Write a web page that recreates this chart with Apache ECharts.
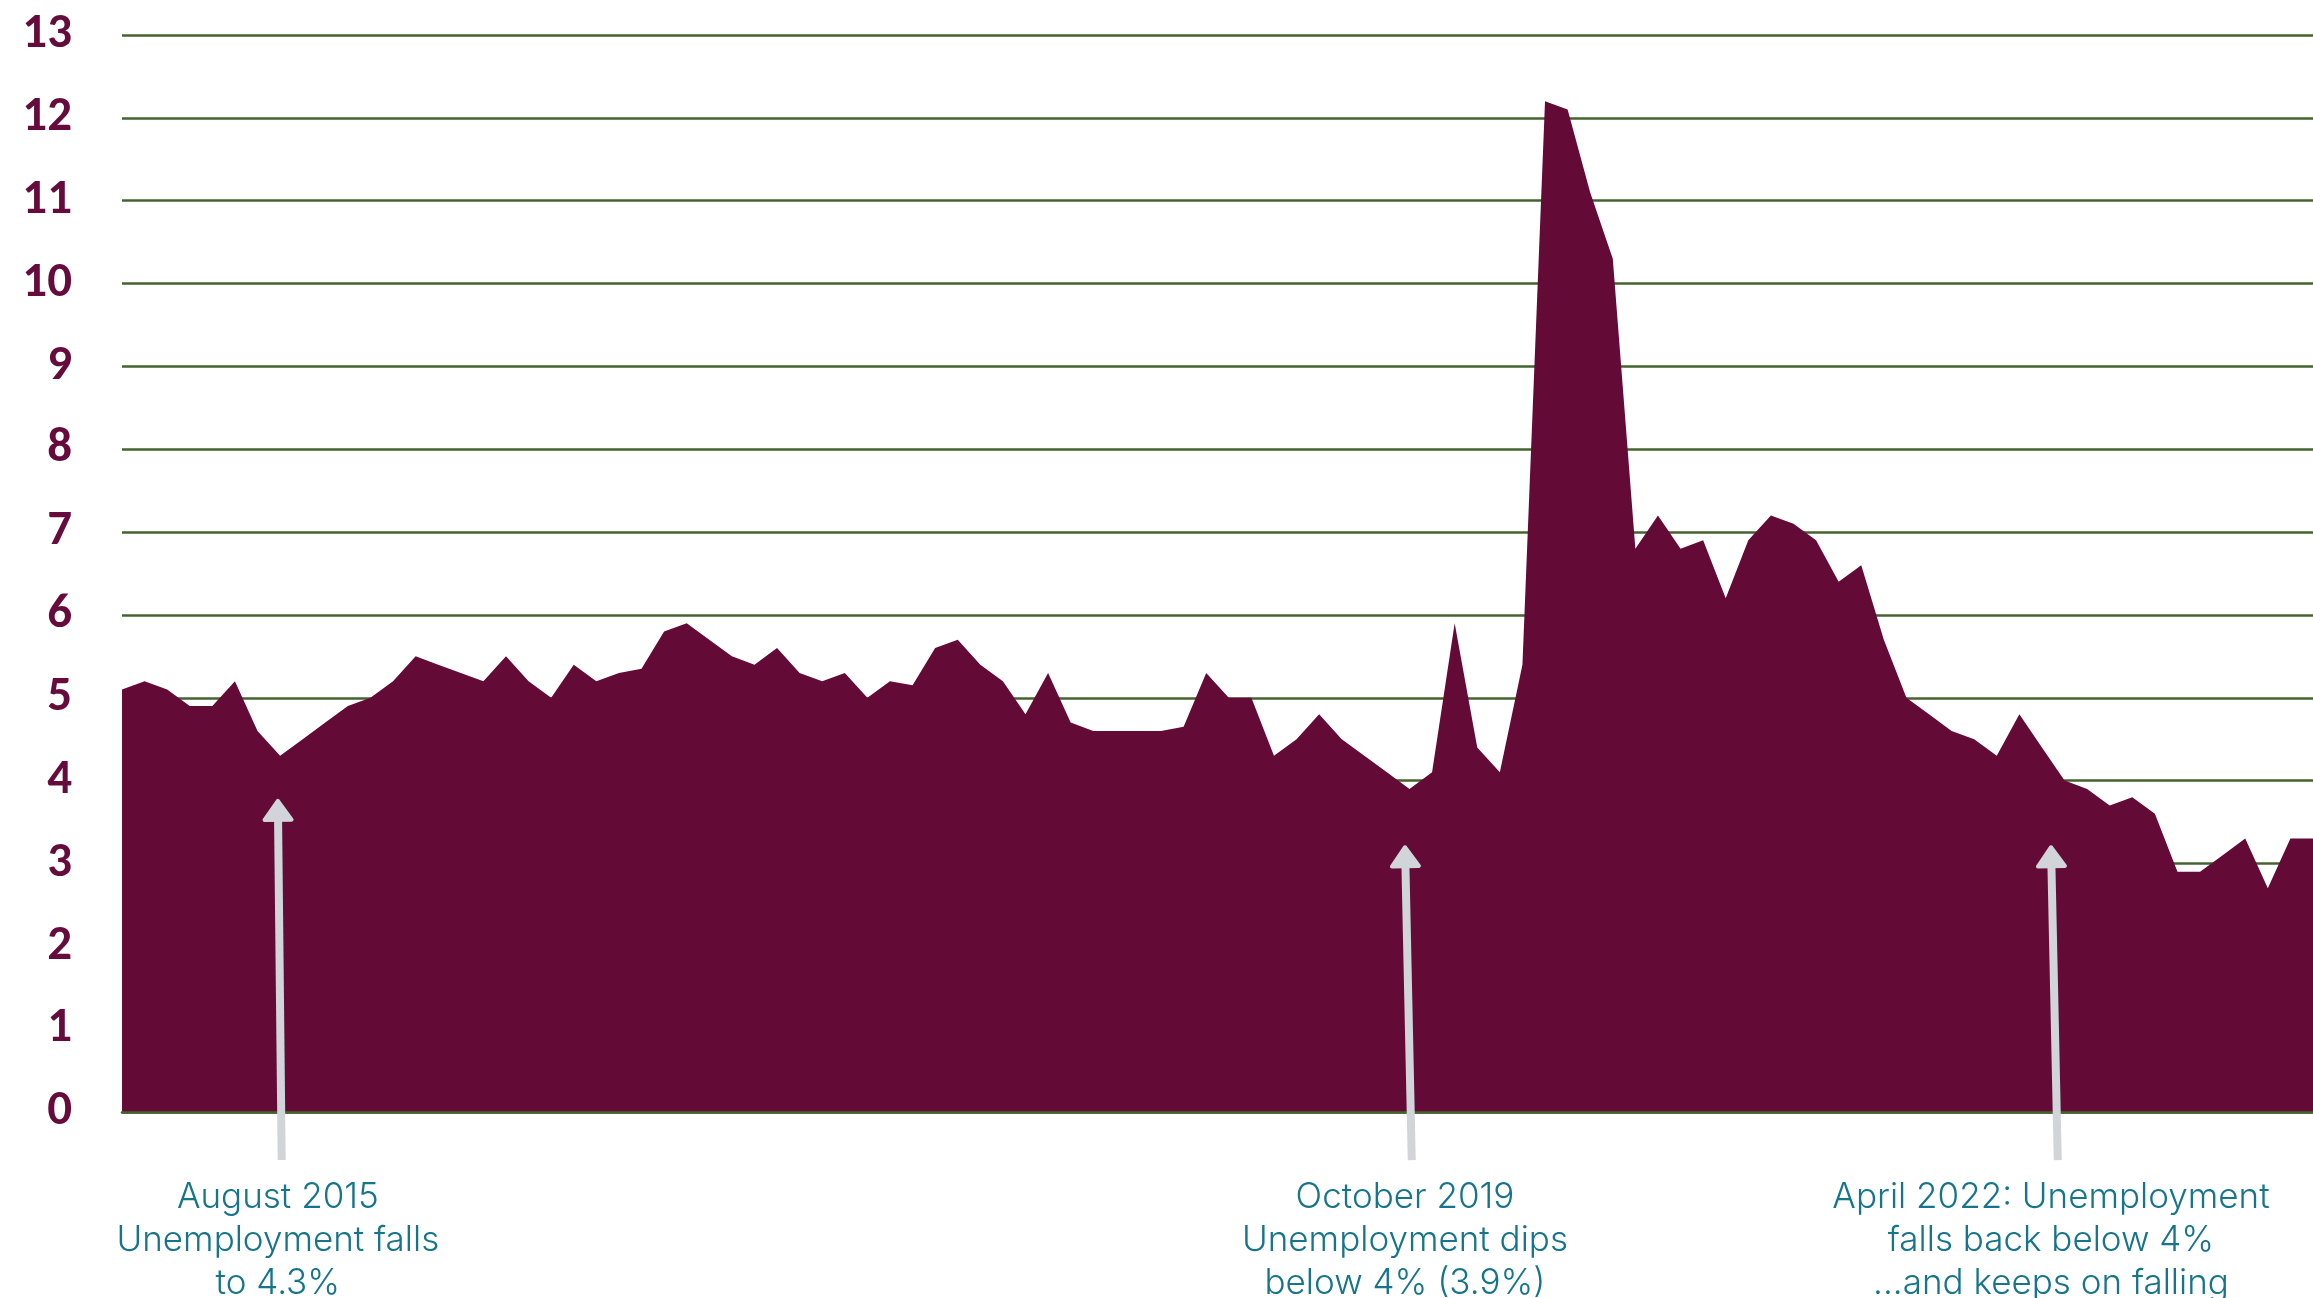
<!DOCTYPE html>
<html>
<head>
<meta charset="utf-8">
<script src="https://cdn.jsdelivr.net/npm/echarts@6/dist/echarts.min.js"></script>
<style>
html,body{margin:0;padding:0;background:#ffffff;}
#chart{width:2313px;height:1298px;}
</style>
</head>
<body>
<div id="chart"></div>
<script>
// ---- data ----
const categories = [
 "2015-01","2015-02","2015-03","2015-04","2015-05","2015-06","2015-07","2015-08","2015-09","2015-10","2015-11","2015-12",
 "2016-01","2016-02","2016-03","2016-04","2016-05","2016-06","2016-07","2016-08","2016-09","2016-10","2016-11","2016-12",
 "2017-01","2017-02","2017-03","2017-04","2017-05","2017-06","2017-07","2017-08","2017-09","2017-10","2017-11","2017-12",
 "2018-01","2018-02","2018-03","2018-04","2018-05","2018-06","2018-07","2018-08","2018-09","2018-10","2018-11","2018-12",
 "2019-01","2019-02","2019-03","2019-04","2019-05","2019-06","2019-07","2019-08","2019-09","2019-10","2019-11","2019-12",
 "2020-01","2020-02","2020-03","2020-04","2020-05","2020-06","2020-07","2020-08","2020-09","2020-10","2020-11","2020-12",
 "2021-01","2021-02","2021-03","2021-04","2021-05","2021-06","2021-07","2021-08","2021-09","2021-10","2021-11","2021-12",
 "2022-01","2022-02","2022-03","2022-04","2022-05","2022-06","2022-07","2022-08","2022-09","2022-10","2022-11","2022-12",
 "2023-01","2023-02"
];
const unemployment = [
 5.1,5.2,5.1,4.9,4.9,5.2,4.6,4.3,4.5,4.7,4.9,5.0,
 5.2,5.5,5.4,5.3,5.2,5.5,5.2,5.0,5.4,5.2,5.3,5.35,
 5.8,5.9,5.7,5.5,5.4,5.6,5.3,5.2,5.3,5.0,5.2,5.15,
 5.6,5.7,5.4,5.2,4.8,5.3,4.7,4.6,4.6,4.6,4.6,4.65,
 5.3,5.0,5.0,4.3,4.5,4.8,4.5,4.3,4.1,3.9,4.1,5.9,
 4.4,4.1,5.4,12.2,12.1,11.1,10.3,6.8,7.2,6.8,6.9,6.2,
 6.9,7.2,7.1,6.9,6.4,6.6,5.7,5.0,4.8,4.6,4.5,4.3,
 4.8,4.4,4.0,3.9,3.7,3.8,3.6,2.9,2.9,3.1,3.3,2.7,
 3.3,3.3
];
const yMin = 0, yMax = 13, yInterval = 1;

// annotation anchors in data coordinates [category index, value]
const annotationTips    = [[6.9, 3.78], [56.8, 3.22], [85.4, 3.22]];
const annotationBottoms = [[7.07, -0.58], [57.1, -0.58], [85.7, -0.58]];
const annotationTexts = [
 ["August 2015", "Unemployment falls", "to 4.3%"],
 ["October 2019", "Unemployment dips", "below 4% (3.9%)"],
 ["April 2022: Unemployment", "falls back below 4%", "...and keeps on falling"]
];

// ---- chart ----
const MAROON = '#630a37';
const GREEN = '#44632f';
const TEAL = '#17758b';
const ARROW = '#d1d5d9';

const chart = echarts.init(document.getElementById('chart'), null, {renderer: 'canvas'});
chart.setOption({
  animation: false,
  backgroundColor: '#ffffff',
  grid: {left: 122, right: 0, top: 35, bottom: 186, containLabel: false},
  xAxis: {
    type: 'category',
    data: categories,
    boundaryGap: false,
    z: 10,
    axisLine: {show: true, lineStyle: {color: GREEN, width: 2.5}},
    axisTick: {show: false},
    axisLabel: {show: false},
    splitLine: {show: false}
  },
  yAxis: {
    type: 'value',
    min: yMin, max: yMax, interval: yInterval,
    axisLine: {show: false},
    axisTick: {show: false},
    axisLabel: {
      color: '#660c3d', fontSize: 49, fontWeight: 'bold',
      fontFamily: 'Carlito, Lato, sans-serif', margin: 50
    },
    splitLine: {show: true, lineStyle: {color: GREEN, width: 2.5}}
  },
  series: [{
    type: 'line',
    data: unemployment,
    symbol: 'none',
    smooth: false,
    lineStyle: {width: 0, color: MAROON},
    itemStyle: {color: MAROON},
    areaStyle: {color: MAROON, opacity: 1}
  }]
});

function px(pt) {
  const idx = pt[0], val = pt[1];
  const i0 = Math.floor(idx), f = idx - i0;
  const a = chart.convertToPixel({gridIndex: 0}, [i0, val]);
  const b = chart.convertToPixel({gridIndex: 0}, [i0 + 1, val]);
  return [a[0] + (b[0] - a[0]) * f, a[1]];
}

const graphics = [];
for (let k = 0; k < annotationTips.length; k++) {
  const T = px(annotationTips[k]);
  const Bm = px(annotationBottoms[k]);
  let dx = T[0] - Bm[0], dy = T[1] - Bm[1];
  const len = Math.sqrt(dx * dx + dy * dy);
  dx /= len; dy /= len;
  const nx = -dy, ny = dx;
  const h = 19, w = 27;
  const tip = [T[0] - dx * 2, T[1] - dy * 2];
  const base = [tip[0] - dx * h, tip[1] - dy * h];
  graphics.push({
    type: 'line', z: 20,
    shape: {x1: Bm[0], y1: Bm[1], x2: base[0] + dx * 2, y2: base[1] + dy * 2},
    style: {stroke: ARROW, lineWidth: 8, lineCap: 'butt'}
  });
  graphics.push({
    type: 'polygon', z: 20,
    shape: {points: [tip, [base[0] + nx * w / 2, base[1] + ny * w / 2], [base[0] - nx * w / 2, base[1] - ny * w / 2]]},
    style: {fill: ARROW, stroke: ARROW, lineWidth: 4, lineJoin: 'round'}
  });
  const lines = annotationTexts[k];
  const cx = T[0];
  for (let j = 0; j < lines.length; j++) {
    graphics.push({
      type: 'text', z: 20,
      x: cx, y: 1197 + j * 43,
      style: {
        text: lines[j], fill: TEAL, fontSize: 35, fontWeight: 300,
        fontFamily: 'Inter, "Open Sans", sans-serif',
        align: 'center', verticalAlign: 'middle'
      }
    });
  }
}
chart.setOption({graphic: graphics});
</script>
</body>
</html>
